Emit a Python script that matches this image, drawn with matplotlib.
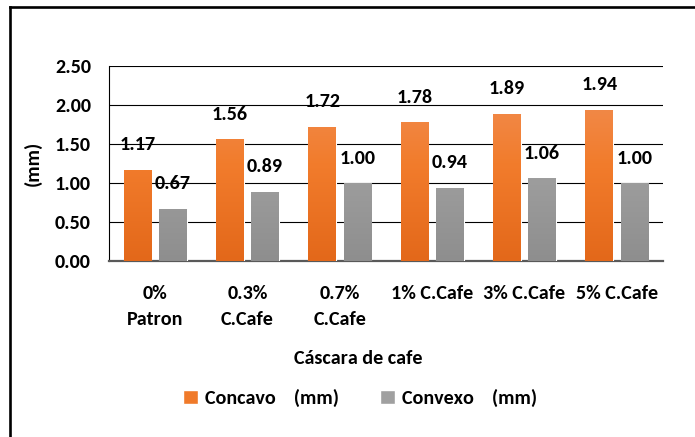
import numpy as np
import matplotlib
matplotlib.use('Agg')
import matplotlib.pyplot as plt
from matplotlib.colors import LinearSegmentedColormap
from matplotlib.lines import Line2D
from matplotlib.patches import Patch

# Data
categories = ['0%\nPatron', '0.3%\nC.Cafe', '0.7%\nC.Cafe', '1% C.Cafe', '3% C.Cafe', '5% C.Cafe']
concavo = [1.17, 1.56, 1.72, 1.78, 1.89, 1.94]
convexo = [0.67, 0.89, 1.00, 0.94, 1.06, 1.00]
series_names = ['Concavo    (mm)', 'Convexo    (mm)']
yticks = [0.0, 0.5, 1.0, 1.5, 2.0, 2.5]

plt.rcParams['font.family'] = ['Carlito', 'Lato', 'DejaVu Sans']
plt.rcParams['font.weight'] = 'bold'
FS = 14.5

orange_cmap = LinearSegmentedColormap.from_list('org', ['#E3681A', '#F27C2C', '#F0925C'])
gray_cmap = LinearSegmentedColormap.from_list('gry', ['#8E8E8E', '#A0A0A0', '#B6B6B6'])

fig = plt.figure(figsize=(6.95, 4.37), dpi=100)
ax = fig.add_axes([109 / 695, 1 - 261 / 437, 554 / 695, 195 / 437])

x = np.arange(len(categories))
width = 0.30
offset = 0.19

bars1 = ax.bar(x - offset, concavo, width, color='#F07A2A', edgecolor='white', linewidth=0.8, zorder=3)
bars2 = ax.bar(x + offset, convexo, width, color='#A0A0A0', edgecolor='white', linewidth=0.8, zorder=3)

# gradient fill clipped to each bar
grad = np.linspace(0, 1, 256).reshape(-1, 1)
for bars, cmap in [(bars1, orange_cmap), (bars2, gray_cmap)]:
    for b in bars:
        x0, y0 = b.get_x(), b.get_y()
        w, h = b.get_width(), b.get_height()
        im = ax.imshow(grad, cmap=cmap, origin='lower', aspect='auto',
                       extent=[x0, x0 + w, y0, y0 + 2.5], zorder=3.5)
        im.set_clip_path(b)

for bars, vals in [(bars1, concavo), (bars2, convexo)]:
    for b, v in zip(bars, vals):
        ax.annotate(f'{v:.2f}', (b.get_x() + b.get_width() / 2, v),
                    xytext=(0, 25), textcoords='offset pixels',
                    ha='center', va='center', fontsize=FS, fontweight='bold', zorder=5)

ax.set_xlim(-0.5, len(categories) - 0.5)
ax.set_ylim(0, 2.5)
ax.set_yticks(yticks)
ax.set_yticklabels([f'{t:.2f}' for t in yticks], fontsize=FS, fontweight='bold')
ax.set_xticks(x)
ax.set_xticklabels(categories, fontsize=FS, fontweight='bold', linespacing=1.7)
ax.tick_params(axis='both', length=0)
ax.tick_params(axis='y', pad=13)
ax.tick_params(axis='x', pad=17)
ax.yaxis.grid(True, color='black', linewidth=0.8)
ax.set_axisbelow(True)
for s in ['top', 'right']:
    ax.spines[s].set_visible(False)
ax.spines['left'].set_color('black')
ax.spines['left'].set_linewidth(0.8)
ax.spines['bottom'].set_color('#595959')
ax.spines['bottom'].set_linewidth(1.6)

ax.set_xlabel('Cáscara de cafe', fontsize=FS, fontweight='bold', va='center')
ax.xaxis.set_label_coords((358 - 109) / 554, -(359 - 261) / 195)
ax.set_ylabel('(mm)', fontsize=FS, fontweight='bold', va='center')
ax.yaxis.set_label_coords(-(109 - 33) / 554, (261 - 163) / 195)

handles = [Patch(facecolor='#F07A2A', edgecolor='white'), Patch(facecolor='#A0A0A0', edgecolor='white')]
fig.legend(handles, series_names, loc='center', bbox_to_anchor=(360 / 695, 1 - 398 / 437),
           ncol=2, frameon=False, handlelength=0.75, handleheight=0.75,
           handletextpad=0.35, columnspacing=2.0, prop={'weight': 'bold', 'size': FS})

# outer frame (left and top edges visible)
fig.add_artist(Line2D([9.5 / 695, 9.5 / 695], [0, 1 - 6.5 / 437], transform=fig.transFigure,
                      color='black', linewidth=1.9))
fig.add_artist(Line2D([9.5 / 695, 1], [1 - 6.5 / 437, 1 - 6.5 / 437], transform=fig.transFigure,
                      color='black', linewidth=1.9))

fig.savefig('out.png', dpi=100)
